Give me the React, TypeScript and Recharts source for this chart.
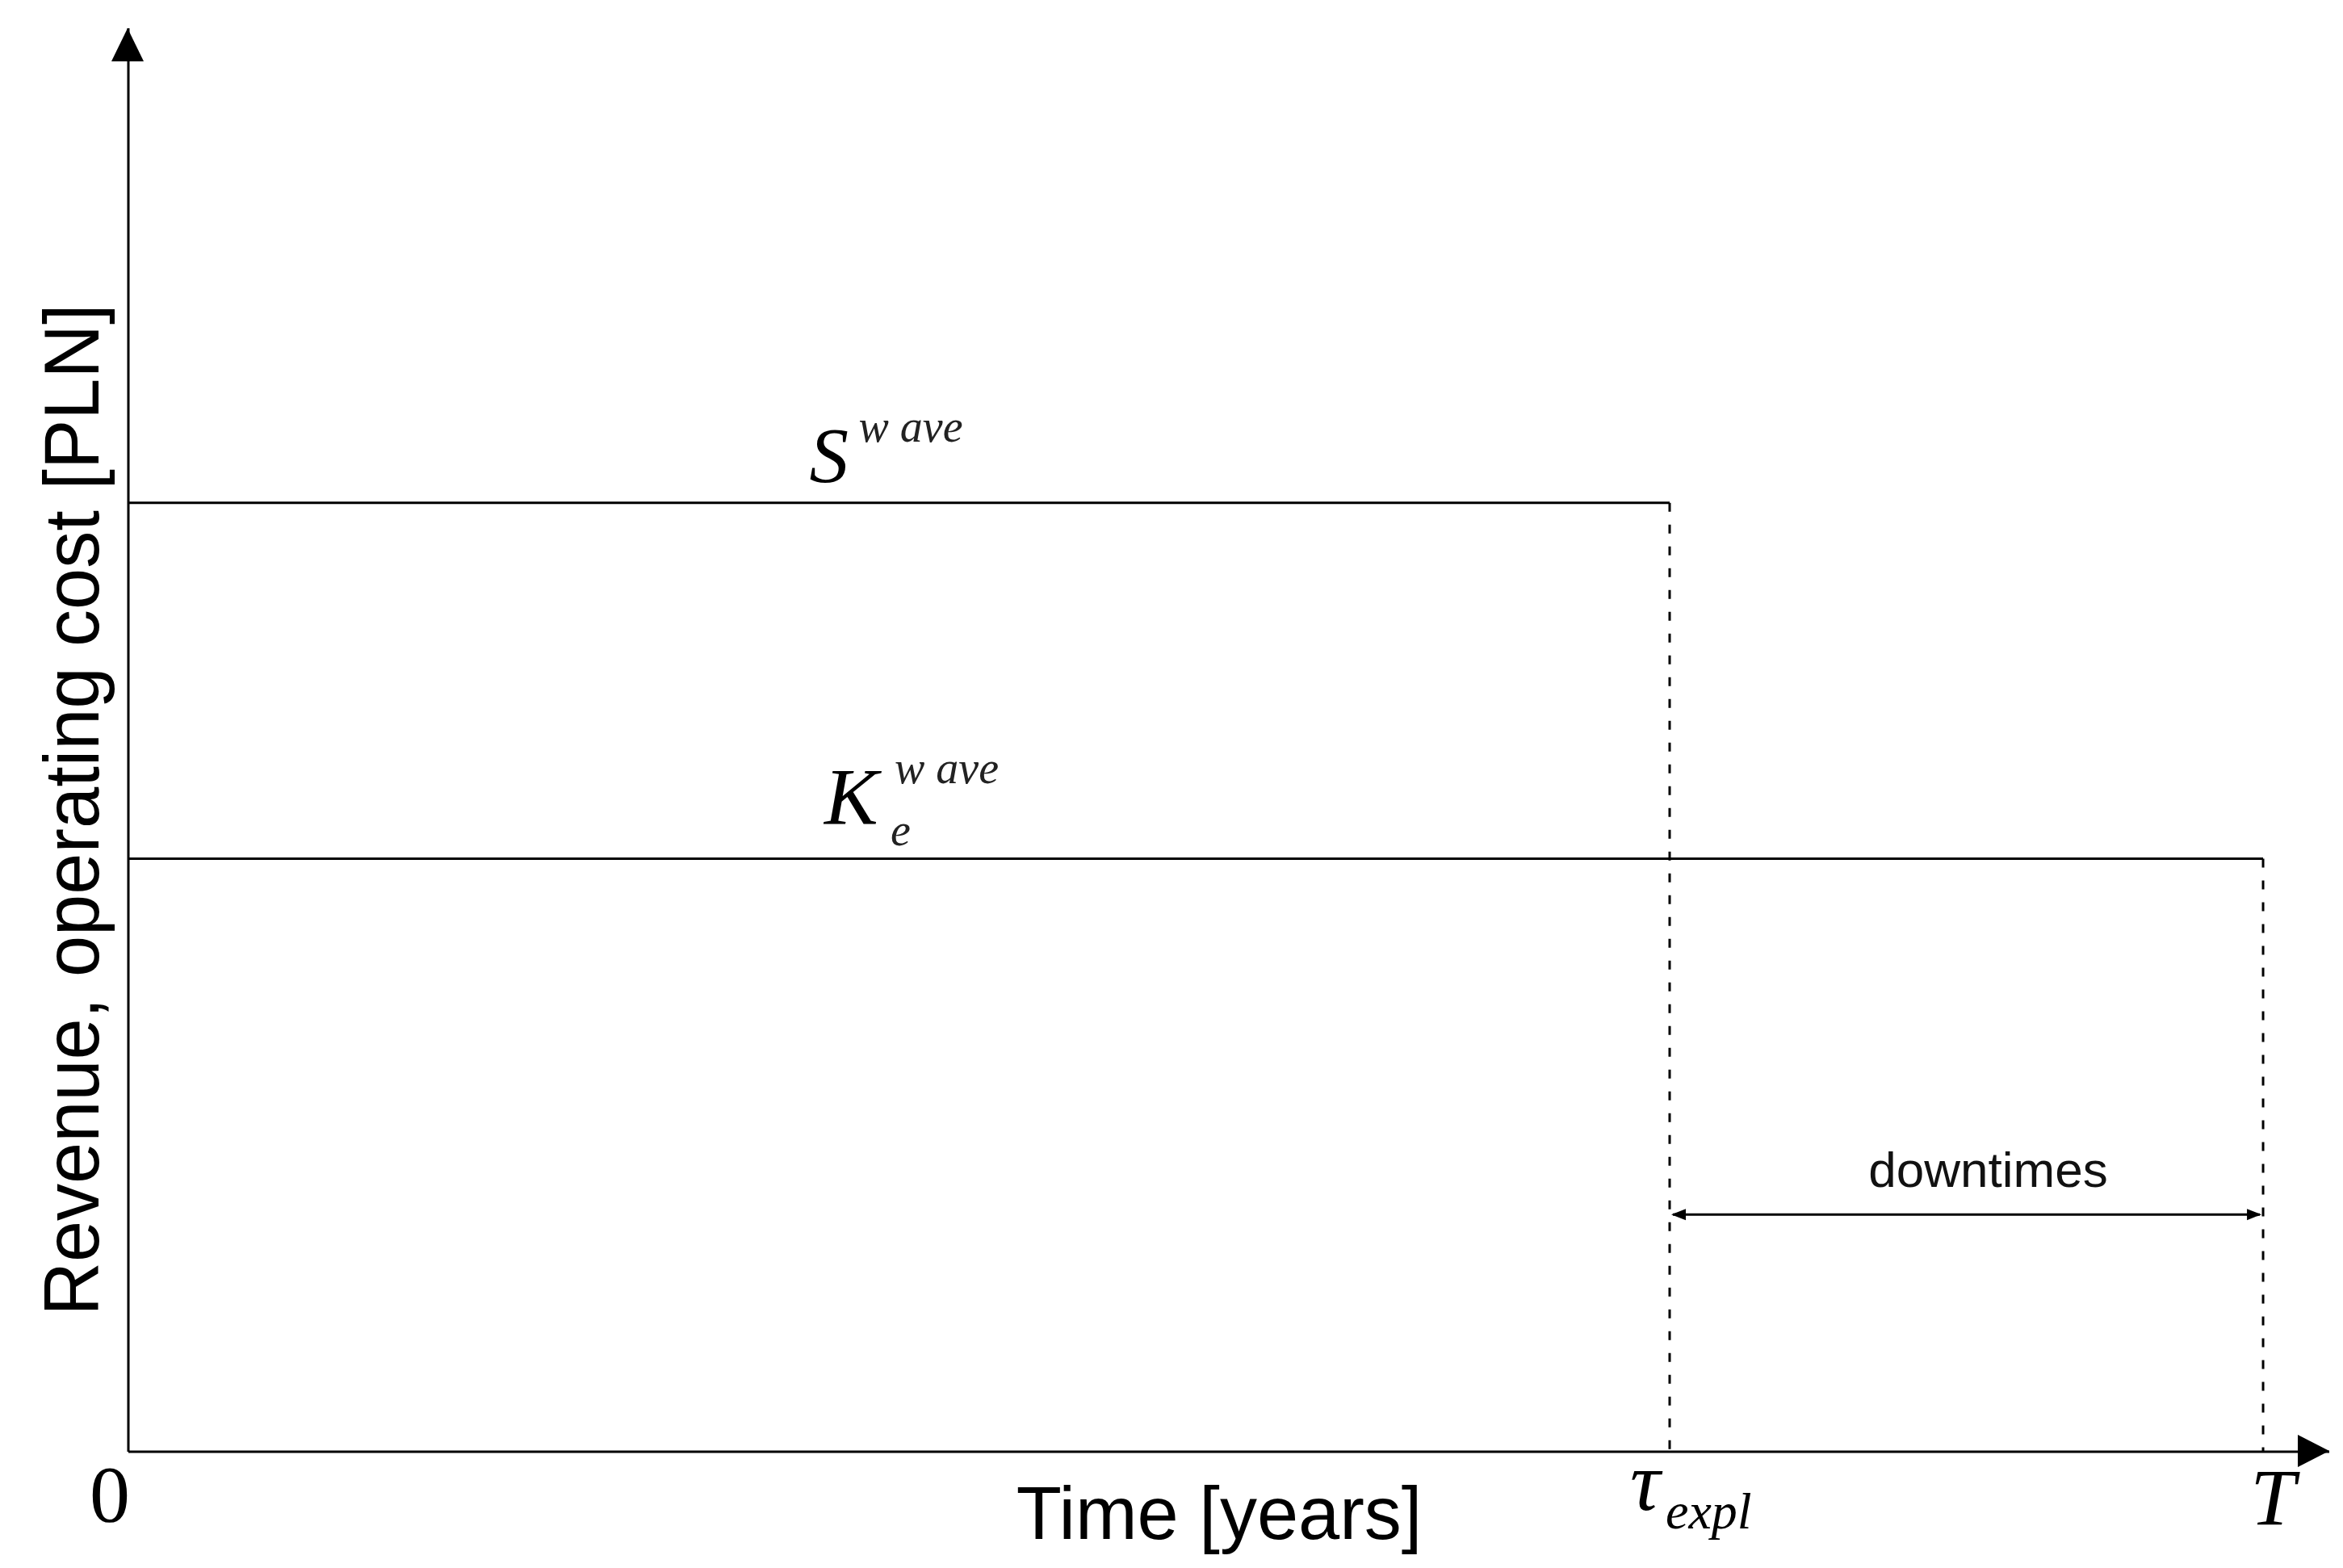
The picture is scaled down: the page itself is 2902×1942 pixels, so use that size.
import React from 'react';
import { LineChart, Line, XAxis, YAxis, ReferenceLine, ReferenceDot } from 'recharts';

// schematic values (time in years, money in arbitrary units)
const times = [0, 7.22, 10];
const revenue = [8, 8, null];
const operatingCost = [5, 5, 5];
const downtimeLevel = 2;
const axisMax = { x: 10.31, y: 12 };

const TAU = times[1];
const T_END = times[2];
const S_LEVEL = revenue[0] as number;
const K_LEVEL = operatingCost[0];

const data = times.map((t, i) => ({ t, S: revenue[i], K: operatingCost[i] }));

const SERIF = '"Liberation Serif", "DejaVu Serif", serif';
const SANS = '"Liberation Sans", Arial, sans-serif';
const STROKE = 3;

const DowntimeArrow = (props: any) => {
    const { x1, y1, x2, y2 } = props;
    const len = 18;
    const half = 7;
    const mid = (x1 + x2) / 2;
    return (
        <g>
            <line x1={x1 + 4} y1={y1} x2={x2 - 4} y2={y2} stroke="#000" strokeWidth={STROKE} />
            <polygon points={`${x1 + 2},${y1} ${x1 + 2 + len},${y1 - half} ${x1 + 2 + len},${y1 + half}`} fill="#000" />
            <polygon points={`${x2 - 2},${y2} ${x2 - 2 - len},${y2 - half} ${x2 - 2 - len},${y2 + half}`} fill="#000" />
            <text x={mid + 27} y={y1 - 34} textAnchor="middle" fontFamily={SANS} fontSize={62} fill="#111">
                downtimes
            </text>
        </g>
    );
};

export default function App() {
    return (
        <div style={{ position: 'absolute', left: 0, top: 0, background: '#fff' }}>
            <LineChart
                width={2902}
                height={1942}
                data={data}
                margin={{ top: 35, right: 17, left: 159, bottom: 144 }}
            >
                <XAxis
                    type="number"
                    dataKey="t"
                    domain={[0, axisMax.x]}
                    height={0}
                    tick={false}
                    tickLine={false}
                    axisLine={false}
                />
                <YAxis
                    type="number"
                    domain={[0, axisMax.y]}
                    width={0}
                    tick={false}
                    tickLine={false}
                    axisLine={false}
                />

                {/* axes */}
                <ReferenceLine x={0} stroke="#000" strokeWidth={STROKE} />
                <ReferenceLine y={0} stroke="#000" strokeWidth={STROKE} />

                <ReferenceLine
                    segment={[{ x: TAU, y: S_LEVEL }, { x: TAU, y: 0 }]}
                    stroke="#000"
                    strokeWidth={STROKE}
                    strokeDasharray="11 16"
                />
                <ReferenceLine
                    segment={[{ x: T_END, y: K_LEVEL }, { x: T_END, y: 0 }]}
                    stroke="#000"
                    strokeWidth={STROKE}
                    strokeDasharray="11 16"
                />
                <ReferenceLine
                    segment={[{ x: TAU, y: downtimeLevel }, { x: T_END, y: downtimeLevel }]}
                    shape={DowntimeArrow}
                />

                <Line type="linear" dataKey="S" stroke="#000" strokeWidth={STROKE} dot={false} isAnimationActive={false} />
                <Line type="linear" dataKey="K" stroke="#000" strokeWidth={STROKE} dot={false} isAnimationActive={false} />

                {/* axis arrow heads */}
                <ReferenceDot
                    x={0}
                    y={axisMax.y}
                    shape={(p: any) => (
                        <polygon points={`${p.cx - 1},${p.cy} ${p.cx - 21},${p.cy + 41} ${p.cx + 19},${p.cy + 41}`} fill="#000" />
                    )}
                />
                <ReferenceDot
                    x={axisMax.x}
                    y={0}
                    shape={(p: any) => (
                        <polygon points={`${p.cx},${p.cy - 1} ${p.cx - 39},${p.cy - 21} ${p.cx - 39},${p.cy + 19}`} fill="#000" />
                    )}
                />

                {/* series labels */}
                <ReferenceDot
                    x={3.19}
                    y={S_LEVEL}
                    shape={(p: any) => (
                        <g fontFamily={SERIF} fontStyle="italic" fill="#000">
                            <text x={p.cx} y={p.cy - 26} fontSize={97}>S</text>
                            <text x={p.cx + 61} y={p.cy - 76} fontSize={56} fill="#222">w ave</text>
                        </g>
                    )}
                />
                <ReferenceDot
                    x={3.26}
                    y={K_LEVEL}
                    shape={(p: any) => (
                        <g fontFamily={SERIF} fontStyle="italic" fill="#000">
                            <text x={p.cx} y={p.cy - 43} fontSize={100}>K</text>
                            <text x={p.cx + 87} y={p.cy - 93} fontSize={56} fill="#222">w ave</text>
                            <text x={p.cx + 82} y={p.cy - 16} fontSize={56} fill="#222">e</text>
                        </g>
                    )}
                />

                {/* x axis marks */}
                <ReferenceDot
                    x={0}
                    y={0}
                    shape={(p: any) => (
                        <g fill="#000">
                            <text x={p.cx - 23} y={p.cy + 86} fontSize={100} fontFamily={SERIF} textAnchor="middle">0</text>
                            <text
                                x={p.cx - 37}
                                y={p.cy - 795}
                                fontSize={96}
                                fontFamily={SANS}
                                textAnchor="middle"
                                textLength={1253}
                                lengthAdjust="spacingAndGlyphs"
                                transform={`rotate(-90 ${p.cx - 37} ${p.cy - 795})`}
                            >
                                Revenue, operating cost [PLN]
                            </text>
                        </g>
                    )}
                />
                <ReferenceDot
                    x={TAU}
                    y={0}
                    shape={(p: any) => (
                        <g fontFamily={SERIF} fontStyle="italic" fill="#000">
                            <text x={p.cx - 49} y={p.cy + 72} fontSize={104}>τ</text>
                            <text x={p.cx - 5} y={p.cy + 95} fontSize={64}>expl</text>
                        </g>
                    )}
                />
                <ReferenceDot
                    x={T_END}
                    y={0}
                    shape={(p: any) => (
                        <text x={p.cx + 12} y={p.cy + 90} fontSize={100} fontFamily={SERIF} fontStyle="italic" textAnchor="middle" fill="#000">
                            T
                        </text>
                    )}
                />
                <ReferenceDot
                    x={5.11}
                    y={0}
                    shape={(p: any) => (
                        <text x={p.cx} y={p.cy + 108} fontSize={92} fontFamily={SANS} textAnchor="middle" fill="#000">
                            Time [years]
                        </text>
                    )}
                />
            </LineChart>
        </div>
    );
}
